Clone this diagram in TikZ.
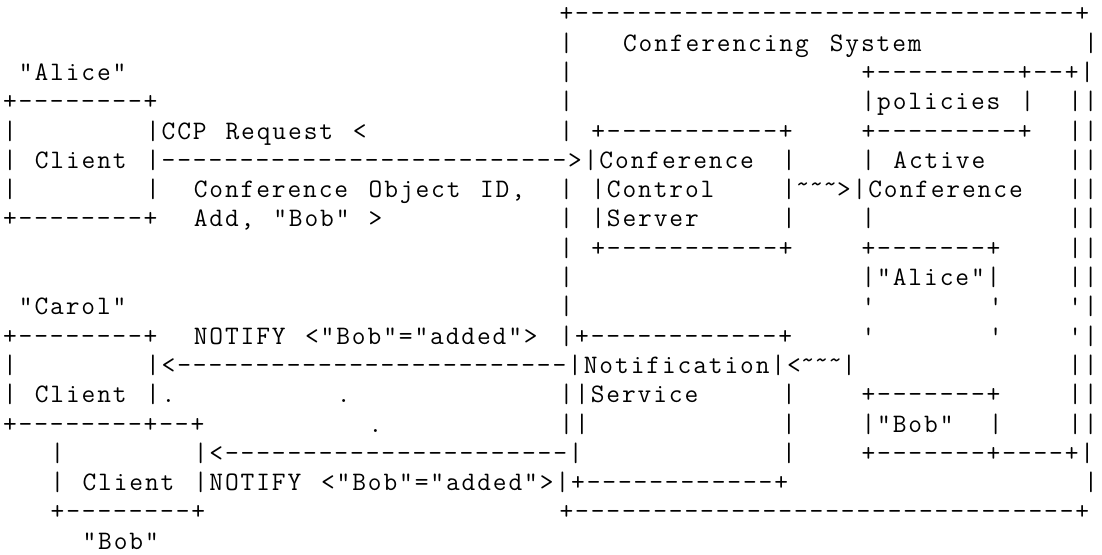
\documentclass[tikz,border=0pt]{standalone}
\usepackage{fontspec}
\setmonofont{Latin Modern Mono}[LetterSpace=7.12]
\ExplSyntaxOn
\cs_new:Npn \dashrun #1 { \prg_replicate:nn {#1} {-} }
\ExplSyntaxOff
% text run starting at column #2 of row #1
\newcommand\tx[3]{\node[txt] (n#1x#2) at ({3+15.9*#2},{-(21.8+29.3*#1)}) {#3};}
\newcommand\tld{\raisebox{5pt}{\textasciitilde}}
\begin{document}
\begin{tikzpicture}[x=1pt,y=1pt,
  txt/.style={anchor=base west, inner sep=0pt, outer sep=0pt,
    font=\ttfamily\fontsize{26.67}{29.3}\selectfont}]
\useasboundingbox (0,0) rectangle (1102,-554);
\tx{0}{35}{+\dashrun{32}+}
\tx{1}{35}{|} \tx{1}{39}{Conferencing} \tx{1}{52}{System} \tx{1}{68}{|}
\tx{2}{1}{"Alice"} \tx{2}{35}{|} \tx{2}{54}{+\dashrun{9}+--+|}
\tx{3}{0}{+\dashrun{8}+} \tx{3}{35}{|} \tx{3}{54}{|policies} \tx{3}{64}{|} \tx{3}{67}{||}
\tx{4}{0}{|} \tx{4}{9}{|CCP} \tx{4}{14}{Request} \tx{4}{22}{<} \tx{4}{35}{|} \tx{4}{37}{+\dashrun{11}+} \tx{4}{54}{+\dashrun{9}+} \tx{4}{67}{||}
\tx{5}{0}{|} \tx{5}{2}{Client} \tx{5}{9}{|\dashrun{26}>|Conference} \tx{5}{49}{|} \tx{5}{54}{|} \tx{5}{56}{Active} \tx{5}{67}{||}
\tx{6}{0}{|} \tx{6}{9}{|} \tx{6}{12}{Conference} \tx{6}{23}{Object} \tx{6}{30}{ID,} \tx{6}{35}{|} \tx{6}{37}{|Control} \tx{6}{49}{|\tld\tld\tld>|Conference} \tx{6}{67}{||}
\tx{7}{0}{+\dashrun{8}+} \tx{7}{12}{Add,} \tx{7}{17}{"Bob"} \tx{7}{23}{>} \tx{7}{35}{|} \tx{7}{37}{|Server} \tx{7}{49}{|} \tx{7}{54}{|} \tx{7}{67}{||}
\tx{8}{35}{|} \tx{8}{37}{+\dashrun{11}+} \tx{8}{54}{+\dashrun{7}+} \tx{8}{67}{||}
\tx{9}{35}{|} \tx{9}{54}{|"Alice"|} \tx{9}{67}{||}
\tx{10}{1}{"Carol"} \tx{10}{35}{|} \tx{10}{54}{'} \tx{10}{62}{'} \tx{10}{67}{'|}
\tx{11}{0}{+\dashrun{8}+} \tx{11}{12}{NOTIFY} \tx{11}{19}{<"Bob"="added">} \tx{11}{35}{|+\dashrun{12}+} \tx{11}{54}{'} \tx{11}{62}{'} \tx{11}{67}{'|}
\tx{12}{0}{|} \tx{12}{9}{|<\dashrun{25}|Notification|<\tld\tld\tld|} \tx{12}{67}{||}
\tx{13}{0}{|} \tx{13}{2}{Client} \tx{13}{9}{|.} \tx{13}{21}{.} \tx{13}{35}{||Service} \tx{13}{49}{|} \tx{13}{54}{+\dashrun{7}+} \tx{13}{67}{||}
\tx{14}{0}{+\dashrun{8}+--+} \tx{14}{23}{.} \tx{14}{35}{||} \tx{14}{49}{|} \tx{14}{54}{|"Bob"} \tx{14}{62}{|} \tx{14}{67}{||}
\tx{15}{3}{|} \tx{15}{12}{|<\dashrun{22}|} \tx{15}{49}{|} \tx{15}{54}{+\dashrun{7}+----+|}
\tx{16}{3}{|} \tx{16}{5}{Client} \tx{16}{12}{|NOTIFY} \tx{16}{20}{<"Bob"="added">|+\dashrun{12}+} \tx{16}{68}{|}
\tx{17}{3}{+\dashrun{8}+} \tx{17}{35}{+\dashrun{32}+}
\tx{18}{5}{"Bob"}
\end{tikzpicture}
\end{document}
